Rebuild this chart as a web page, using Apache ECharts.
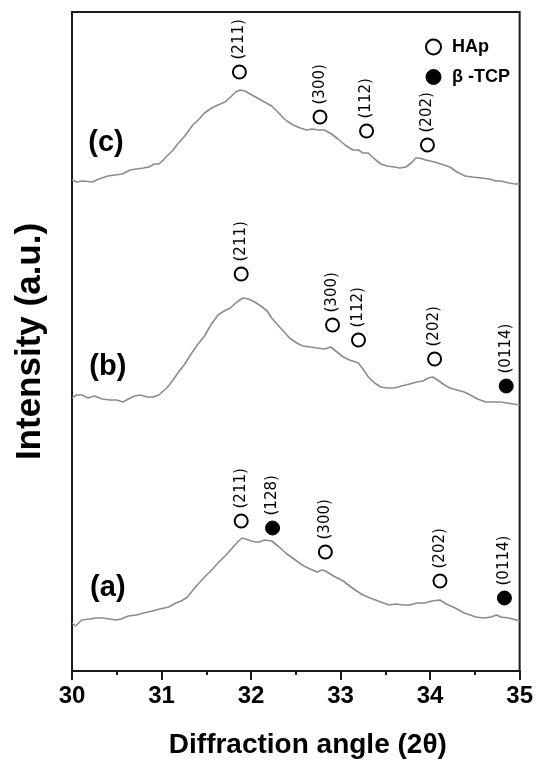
<!DOCTYPE html>
<html>
<head>
<meta charset="utf-8">
<script src="https://cdn.jsdelivr.net/npm/echarts@6/dist/echarts.min.js"></script>
<style>
  html, body { margin: 0; padding: 0; background: #fff; }
  #chart { width: 536px; height: 765px; }
</style>
</head>
<body>
<div id="chart"></div>
<script>
// XRD patterns (2θ in degrees, stacked intensity in arbitrary units)
const traceA = [[30.00,48],[30.04,45],[30.11,51],[30.20,52],[30.27,53],[30.34,53],[30.42,52],[30.49,51],[30.55,52],[30.63,55],[30.72,56],[30.80,58],[30.90,60],[30.98,62],[31.08,64],[31.16,68],[31.22,70],[31.29,74],[31.36,82],[31.42,88],[31.48,94],[31.56,101],[31.63,108],[31.71,115],[31.78,122],[31.86,130],[31.90,133],[31.94,132],[32.00,130],[32.05,129],[32.09,129],[32.15,131],[32.23,130],[32.30,125],[32.35,121],[32.40,117],[32.48,112],[32.54,108],[32.59,105],[32.66,102],[32.74,99],[32.79,101],[32.83,100],[32.92,95],[33.03,90],[33.10,85],[33.18,80],[33.25,76],[33.33,73],[33.42,70],[33.54,66],[33.62,67],[33.70,66],[33.77,66],[33.86,68],[33.94,68],[34.02,70],[34.11,71],[34.18,67],[34.28,63],[34.38,58],[34.45,56],[34.51,54],[34.60,53],[34.68,54],[34.74,56],[34.79,54],[34.88,53],[35.00,50]];

const traceB = [[30.00,273],[30.05,276],[30.11,276],[30.18,273],[30.25,275],[30.34,272],[30.42,271],[30.50,271],[30.57,269],[30.65,273],[30.70,275],[30.76,276],[30.84,274],[30.91,274],[30.97,276],[31.02,280],[31.06,283],[31.12,290],[31.19,299],[31.26,307],[31.33,317],[31.40,326],[31.48,335],[31.55,346],[31.60,352],[31.63,356],[31.70,360],[31.77,363],[31.84,369],[31.91,373],[31.97,372],[32.04,369],[32.11,365],[32.18,360],[32.23,353],[32.28,348],[32.36,340],[32.43,333],[32.51,328],[32.58,325],[32.66,324],[32.74,323],[32.82,322],[32.89,324],[32.96,319],[33.03,314],[33.10,311],[33.20,308],[33.25,302],[33.31,294],[33.38,288],[33.45,284],[33.52,283],[33.60,283],[33.68,285],[33.77,287],[33.85,289],[33.92,290],[33.98,293],[34.03,294],[34.10,290],[34.16,286],[34.22,283],[34.30,281],[34.38,279],[34.45,276],[34.53,272],[34.62,269],[34.70,269],[34.79,269],[34.86,268],[34.93,267],[35.00,266]];

const traceC = [[30.00,491],[30.05,489],[30.12,490],[30.23,489],[30.30,492],[30.40,495],[30.48,496],[30.56,497],[30.65,501],[30.72,502],[30.80,503],[30.86,504],[30.92,507],[30.97,507],[31.02,511],[31.06,515],[31.12,520],[31.18,527],[31.26,535],[31.35,546],[31.42,552],[31.48,558],[31.56,563],[31.63,566],[31.71,569],[31.77,574],[31.83,579],[31.88,581],[31.93,580],[31.99,577],[32.05,574],[32.13,570],[32.23,565],[32.30,559],[32.36,553],[32.40,550],[32.47,546],[32.55,543],[32.62,541],[32.68,542],[32.75,541],[32.82,541],[32.90,537],[32.97,532],[33.05,526],[33.10,523],[33.14,521],[33.20,521],[33.25,518],[33.31,518],[33.38,512],[33.45,507],[33.52,505],[33.60,504],[33.66,503],[33.73,504],[33.79,508],[33.84,513],[33.88,513],[33.95,511],[34.05,509],[34.12,507],[34.22,504],[34.30,499],[34.39,495],[34.47,494],[34.57,493],[34.66,492],[34.74,490],[34.79,490],[34.88,488],[34.95,487],[35.00,487]];

// Indexed reflections: [2θ, marker height, (hkl)]
const hapPeaks = [
  [31.87,599,'(211)'],[32.77,554,'(300)'],[33.29,540,'(112)'],[33.97,526,'(202)'],
  [31.89,397,'(211)'],[32.91,346,'(300)'],[33.20,331,'(112)'],[34.05,312,'(202)'],
  [31.89,150,'(211)'],[32.83,119,'(300)'],[34.11,90,'(202)']
];
const tcpPeaks = [
  [34.85,285,'(0114)'],
  [32.24,143,'(128)'],[34.83,73,'(0114)']
];

// Sample tags and where they sit on each pattern
const sampleTags = ['(a)','(b)','(c)'];
const tagAnchors = [[30.40,83],[30.40,304],[30.38,528]];

const xTicks = [30,31,32,33,34,35];

const AXIS_FONT = '"Liberation Sans", Arial, sans-serif';
const ink = '#1a1a1a';

const peakLabel = {
  show: true,
  position: 'top',
  distance: 5,
  rotate: 90,
  align: 'left',
  verticalAlign: 'middle',
  fontFamily: '"DejaVu Sans", sans-serif',
  fontSize: 15,
  color: '#000',
  formatter: '{b}'
};

const toItems = arr => arr.map(p => ({ name: p[2], value: [p[0], p[1]] }));

const lineSeries = (name, data) => ({
  name, type: 'line', data,
  showSymbol: false, smooth: false, silent: true,
  lineStyle: { color: '#8c8c8c', width: 1.6 },
  z: 2
});

const chart = echarts.init(document.getElementById('chart'), null, { renderer: 'canvas' });

chart.setOption({
  animation: false,
  backgroundColor: '#fff',
  grid: {
    left: 72, right: 16, top: 12, bottom: 94,
    show: true, borderColor: ink, borderWidth: 2, backgroundColor: 'transparent'
  },
  legend: {
    orient: 'vertical',
    left: 420, top: 33,
    itemWidth: 15, itemHeight: 15, itemGap: 12,
    icon: 'circle',
    selectedMode: false,
    textStyle: {
      fontFamily: AXIS_FONT, fontWeight: 'bold', fontSize: 18, color: '#000',
      lineHeight: 18, padding: [0, 0, 0, 6]
    },
    data: [
      { name: 'HAp', itemStyle: { color: '#fff', borderColor: '#000', borderWidth: 2, opacity: 1 } },
      { name: 'β -TCP', itemStyle: { color: '#000', borderColor: '#000', borderWidth: 1, opacity: 1 } }
    ]
  },
  xAxis: {
    type: 'value',
    min: xTicks[0], max: xTicks[xTicks.length - 1], interval: 1,
    name: 'Diffraction angle (2θ)',
    nameLocation: 'middle',
    nameGap: 60,
    nameTextStyle: {
      fontFamily: AXIS_FONT, fontWeight: 'bold', fontSize: 28, color: '#000',
      padding: [0, 0, 0, 24]
    },
    axisLine: { show: true, lineStyle: { color: ink, width: 2 } },
    axisTick: { show: true, inside: false, length: 9, lineStyle: { color: ink, width: 2 } },
    minorTick: { show: true, splitNumber: 2, length: 4, lineStyle: { color: ink, width: 2 } },
    axisLabel: {
      margin: 13,
      fontFamily: AXIS_FONT, fontWeight: 'bold', fontSize: 24, color: '#000'
    },
    splitLine: { show: false }
  },
  yAxis: {
    type: 'value',
    min: 0, max: 659,
    name: 'Intensity (a.u.)',
    nameLocation: 'middle',
    nameGap: 24,
    nameTextStyle: {
      fontFamily: AXIS_FONT, fontWeight: 'bold', fontSize: 35, color: '#000'
    },
    axisLine: { show: true, lineStyle: { color: ink, width: 2 } },
    axisTick: { show: false },
    axisLabel: { show: false },
    splitLine: { show: false }
  },
  series: [
    lineSeries('a', traceA),
    lineSeries('b', traceB),
    lineSeries('c', traceC),
    {
      name: 'HAp', type: 'scatter',
      data: toItems(hapPeaks),
      symbol: 'circle', symbolSize: 13,
      itemStyle: { color: '#fff', borderColor: '#000', borderWidth: 2, opacity: 1 },
      label: peakLabel,
      silent: true, z: 5
    },
    {
      name: 'β -TCP', type: 'scatter',
      data: toItems(tcpPeaks),
      symbol: 'circle', symbolSize: 14,
      itemStyle: { color: '#000', borderColor: '#000', borderWidth: 1, opacity: 1 },
      label: peakLabel,
      silent: true, z: 5
    },
    {
      name: 'tags', type: 'scatter',
      data: sampleTags.map((t, i) => ({ name: t, value: tagAnchors[i] })),
      symbolSize: 0,
      itemStyle: { opacity: 1 },
      label: {
        show: true, position: 'inside', formatter: '{b}',
        fontFamily: AXIS_FONT, fontWeight: 'bold', fontSize: 29, color: '#000'
      },
      silent: true, z: 6
    }
  ]
});
</script>
</body>
</html>
